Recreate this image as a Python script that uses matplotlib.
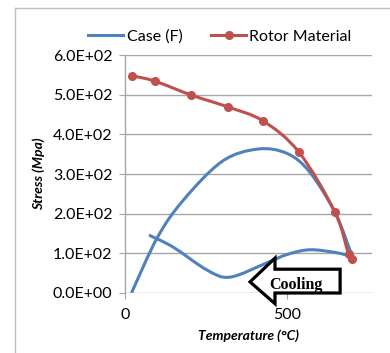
import numpy as np
import matplotlib
matplotlib.use('Agg')
import matplotlib.pyplot as plt
from matplotlib.path import Path
from matplotlib.patches import PathPatch, Polygon
from matplotlib.lines import Line2D

# Rotor material allowable stress vs temperature
rotor_temp = [22, 93, 205, 318, 426, 537, 648, 690, 700]
rotor_stress = [548, 534, 499, 469, 434, 355, 204, 98, 86]

# Case (F) - heating branch
case_heat_temp = [20, 100, 180, 300, 410, 500, 570, 650, 700]
case_heat_stress = [0, 140, 234, 332, 363, 352, 305, 200, 95]

# Case (F) - cooling branch
case_cool_temp = [700, 650, 570, 500, 438, 324, 253, 148, 74]
case_cool_stress = [92, 102, 109, 97, 76, 40, 58, 116, 146]

y_ticks = [0, 100, 200, 300, 400, 500, 600]
y_ticklabels = ['0.0E+00', '1.0E+02', '2.0E+02', '3.0E+02', '4.0E+02', '5.0E+02', '6.0E+02']
x_ticks = [0, 500]

C_CASE = '#4F81BD'
C_ROTOR = '#C0504D'
C_GRID = '#A6A6A6'
FONT = 'Lato'


def smooth_path(xs, ys, t=0.5):
    # Catmull-Rom style bezier through the points (like Excel's smoothed line)
    p = np.column_stack([xs, ys]).astype(float)
    n = len(p)
    verts = [p[0]]
    codes = [Path.MOVETO]
    for i in range(n - 1):
        p0 = p[i - 1] if i > 0 else p[i]
        p1 = p[i]
        p2 = p[i + 1]
        p3 = p[i + 2] if i + 2 < n else p[i + 1]
        c1 = p1 + (p2 - p0) * t / 3.0
        c2 = p2 - (p3 - p1) * t / 3.0
        verts += [c1, c2, p2]
        codes += [Path.CURVE4] * 3
    return Path(verts, codes)


fig = plt.figure(figsize=(3.9, 3.53), dpi=100)
ax = fig.add_axes([0.3205, 0.170, 0.633, 0.674])

for s in ['top', 'right', 'bottom']:
    ax.spines[s].set_visible(False)
ax.spines['left'].set_color(C_GRID)
ax.spines['left'].set_linewidth(1.0)

ax.set_xlim(0, 762)
ax.set_ylim(0, 600)
ax.set_yticks(y_ticks)
ax.set_yticklabels(y_ticklabels)
ax.set_xticks(x_ticks)
ax.yaxis.grid(True, color=C_GRID, linewidth=1.0)
ax.set_axisbelow(True)
ax.tick_params(axis='y', length=4, color=C_GRID, pad=5, labelsize=11.5)
ax.tick_params(axis='x', length=4, color=C_GRID, pad=7, labelsize=11.5)
for lab in ax.get_xticklabels() + ax.get_yticklabels():
    lab.set_fontfamily(FONT)

# curves
ax.add_patch(PathPatch(smooth_path(case_heat_temp, case_heat_stress),
                       facecolor='none', edgecolor=C_CASE, lw=2.2, zorder=3))
ax.add_patch(PathPatch(smooth_path(case_cool_temp, case_cool_stress),
                       facecolor='none', edgecolor=C_CASE, lw=2.2, zorder=3))
ax.add_patch(PathPatch(smooth_path(rotor_temp, rotor_stress),
                       facecolor='none', edgecolor=C_ROTOR, lw=2.2, zorder=4))
ax.plot(rotor_temp, rotor_stress, 'o', color=C_ROTOR, markersize=5.5, zorder=5)

# cooling arrow
arrow = Polygon([(386, 28), (463, 88), (463, 60), (664, 60), (664, 0),
                 (463, 0), (463, -27)], closed=True, facecolor='white',
                edgecolor='black', lw=2.3, clip_on=False, zorder=6)
ax.add_patch(arrow)
ax.text(527, 21, 'Cooling', fontsize=11.5, fontweight='bold',
        family='Liberation Serif', ha='center', va='center', zorder=7)

ax.set_ylabel('Stress (Mpa)', fontsize=10, fontweight='bold', style='italic',
              family=FONT, labelpad=6)
ax.set_xlabel('Temperature (°C)', fontsize=10, fontweight='bold', style='italic',
              family=FONT, labelpad=5)

handles = [Line2D([0], [0], color=C_CASE, lw=2.2),
           Line2D([0], [0], color=C_ROTOR, lw=2.2, marker='o', markersize=5.5)]
leg = ax.legend(handles, ['Case (F)', 'Rotor Material'], loc='lower center',
                bbox_to_anchor=(0.385, 1.02), ncol=2, frameon=False,
                prop={'family': FONT, 'size': 11.5}, handlelength=2.2,
                handletextpad=0.2, columnspacing=1.8, borderaxespad=0)

# outer chart border (left and top visible)
fig.add_artist(Line2D([15 / 390, 15 / 390], [0, 1 - 8 / 353], color='#BFBFBF',
                      lw=1.0, transform=fig.transFigure))
fig.add_artist(Line2D([15 / 390, 1], [1 - 8 / 353, 1 - 8 / 353], color='#BFBFBF',
                      lw=1.0, transform=fig.transFigure))

fig.savefig('out.png', dpi=100, facecolor='white')
